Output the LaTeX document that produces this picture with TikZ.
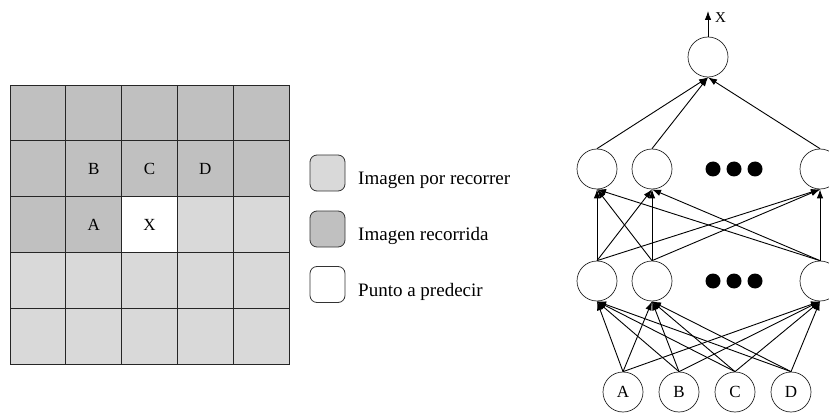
\documentclass[tikz,border=0pt]{standalone}
\usepackage{fontspec}
\setmainfont{Liberation Serif}
\usetikzlibrary{arrows.meta}
\definecolor{visited}{RGB}{192,192,192}
\definecolor{pending}{RGB}{217,217,217}
\tikzset{
  cellbox/.style={draw=black!85, line width=0.8pt},
  celltext/.style={font=\fontsize{17}{17}\selectfont},
  legbox/.style={draw=black!80, line width=0.8pt, rounded corners=7pt,
                 minimum width=35pt, minimum height=36pt, inner sep=0pt},
  legtext/.style={font=\fontsize{19}{19}\selectfont, anchor=base west, inner sep=0pt},
  neuron/.style={circle, draw=black!85, line width=0.7pt, minimum size=40pt,
                 inner sep=0pt, font=\fontsize{17}{17}\selectfont},
  dotmark/.style={circle, fill=black, minimum size=15pt, inner sep=0pt},
  arr/.style={-{Latex[length=9pt,width=6.5pt]}, line width=0.9pt},
}
\begin{document}
\begin{tikzpicture}[x=1pt, y=-1pt]
\useasboundingbox (0,0) rectangle (829,414);

% 5x5 grid of pixels: rows 1-2 and the first two cells of row 3 already visited
\def\cs{55.8}
\foreach \r in {0,...,4}{
  \foreach \c in {0,...,4}{
    \pgfmathtruncatemacro{\idx}{\r*5+\c}
    \ifnum\idx<12
      \def\cellcol{visited}
    \else\ifnum\idx=12
      \def\cellcol{white}
    \else
      \def\cellcol{pending}
    \fi\fi
    \filldraw[cellbox, fill=\cellcol] (10+\c*\cs, 85+\r*\cs) rectangle ++(\cs,\cs);
  }
}
\node[celltext] (cB) at (10+1.5*\cs, 85+1.5*\cs) {B};
\node[celltext] (cC) at (10+2.5*\cs, 85+1.5*\cs) {C};
\node[celltext] (cD) at (10+3.5*\cs, 85+1.5*\cs) {D};
\node[celltext] (cA) at (10+1.5*\cs, 85+2.5*\cs) {A};
\node[celltext] (cX) at (10+2.5*\cs, 85+2.5*\cs) {X};

% legend
\node[legbox, fill=pending] (l1) at (327.5,173) {};
\node[legbox, fill=visited] (l2) at (327.5,229) {};
\node[legbox, fill=white]   (l3) at (327.5,284.5) {};
\node[legtext] (t1) at (358,185) {Imagen por recorrer};
\node[legtext] (t2) at (358,240) {Imagen recorrida};
\node[legtext] (t3) at (358,296) {Punto a predecir};

% network: inputs, two hidden layers, output
\node[neuron] (A) at (623,392) {A};
\node[neuron] (B) at (679,392) {B};
\node[neuron] (C) at (735,392) {C};
\node[neuron] (D) at (791,392) {D};

\node[neuron] (h1) at (597,281) {};
\node[neuron] (h2) at (652,281) {};
\node[neuron] (h3) at (820,281) {};
\node[dotmark] (hd1) at (713,281) {};
\node[dotmark] (hd2) at (734,281) {};
\node[dotmark] (hd3) at (755,281) {};

\node[neuron] (g1) at (597,169) {};
\node[neuron] (g2) at (652,169) {};
\node[neuron] (g3) at (820,169) {};
\node[dotmark] (gd1) at (713,169) {};
\node[dotmark] (gd2) at (734,169) {};
\node[dotmark] (gd3) at (755,169) {};

\node[neuron] (out) at (708,57) {};
\coordinate (outend) at (708,11);

\foreach \i in {A,B,C,D}
  \foreach \j in {h1,h2,h3}
    \draw[arr] (\i.north) -- (\j.south);
\foreach \i in {h1,h2,h3}
  \foreach \j in {g1,g2,g3}
    \draw[arr] (\i.north) -- (\j.south);
\foreach \i in {g1,g2,g3}
  \draw[arr] (\i.north) -- (out.south);
\draw[arr] (out.north) -- (outend);
\node[font=\fontsize{15}{15}\selectfont, anchor=west, inner sep=0pt] (xl) at (715,18) {X};
\end{tikzpicture}
\end{document}
